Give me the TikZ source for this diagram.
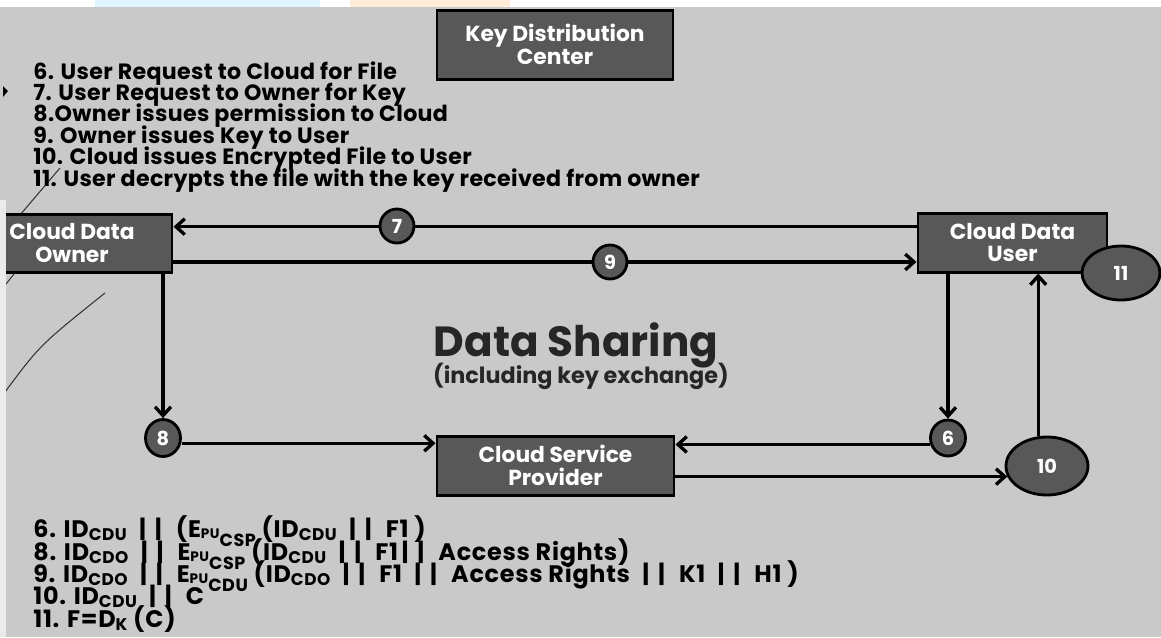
\documentclass[tikz,border=0pt]{standalone}
\usepackage{fontspec}
\setmainfont{Poppins}
\newfontfamily\frmfont{Poppins}[LetterSpace=3]
\usetikzlibrary{arrows.meta,shapes.geometric,calc}
\definecolor{bg}{RGB}{201,201,201}
\definecolor{boxgray}{RGB}{88,88,88}
\newcommand{\sbs}[1]{\smash{\raisebox{-1.8pt}{\fontsize{9.6}{10}\selectfont #1}}}
\newcommand{\epu}[1]{E\smash{\raisebox{-0.8pt}{\fontsize{7.8}{8}\selectfont PU}\raisebox{-5.2pt}{\fontsize{10}{10}\selectfont #1}}}
\newcommand{\bb}{\hspace{7pt}|\hspace{5pt}|\hspace{8pt}}
\begin{document}
\begin{tikzpicture}[x=0.02cm,y=-0.02cm,
  box/.style={draw=black, line width=1.7pt, fill=boxgray, text=white, align=center, inner sep=0pt,
     font=\bfseries\fontsize{12.4}{13}\selectfont},
  circ/.style={ellipse, draw=black, line width=1.6pt, fill=boxgray, text=white, inner sep=0pt,
     font=\bfseries\fontsize{11}{12}\selectfont},
  arr/.style={line width=1.9pt, -{Straight Barb[length=5pt,width=9pt]}},
  lst/.style={anchor=base west, inner sep=0pt, font=\bfseries\fontsize{12.6}{13}\selectfont\addfontfeatures{LetterSpace=1.5}},
  frm/.style={anchor=base west, inner sep=0pt, font=\frmfont\bfseries\fontsize{13.6}{15}\selectfont},
  pen/.style={line width=0.6pt, black!80}]
\useasboundingbox (0,0) rectangle (1161,637);
\fill[bg] (0,0) rectangle (1161,637);
\fill[white] (0,0) rectangle (1161,7);
\fill[cyan!12] (95,0) rectangle (320,7);
\fill[orange!15] (350,0) rectangle (510,7);

% pen marks
\draw[pen] (5,392) .. controls (40,345) .. (105,293);
\draw[pen] (60,168) -- (20,215);
\draw[pen] (14,274) -- (6,284);
\fill[black] (3,86) -- (8,91) -- (3,97) -- cycle;

% nodes
\node[box, minimum width=236*0.02cm, minimum height=69*0.02cm] (kdc) at (555,44.5) {Key Distribution\\Center};
\node[box, minimum width=200*0.02cm, minimum height=58*0.02cm] (owner) at (72,243) {Cloud Data\\Owner};
\node[box, minimum width=189*0.02cm, minimum height=59*0.02cm] (user) at (1012.5,242.5) {Cloud Data\\User};
\node[box, minimum width=237*0.02cm, minimum height=59*0.02cm] (csp) at (555.5,465.5) {Cloud Service\\Provider};

% list
\node[lst] (l6) at (33,79) {6. User Request to Cloud for File};
\node[lst] (l7) at (33,100) {7. User Request to Owner for Key};
\node[lst] (l8) at (33,121) {8.Owner issues permission to Cloud};
\node[lst] (l9) at (33,143) {9. Owner issues Key to User};
\node[lst] (l10) at (33,164) {10. Cloud issues Encrypted File to User};
\node[lst] (l11) at (33,186) {11. User decrypts the file with the key received from owner};

% title
\node[anchor=base, inner sep=0pt, font=\bfseries\fontsize{24}{26}\selectfont, text=black!85] (title) at (576,356) {Data Sharing};
\node[anchor=base, inner sep=0pt, font=\bfseries\fontsize{12.7}{14}\selectfont, text=black!85] (sub) at (581,383) {(including key exchange)};

% connectors
\draw[arr] ([yshift=9pt]user.west) -- ([yshift=9pt]user.west -| owner.east);
\draw[arr] ([yshift=-10.8pt]owner.east) -- ([yshift=-10.8pt]owner.east -| user.west);
\node[circ, minimum width=34*0.02cm, minimum height=34*0.02cm] (c7) at (397,226) {7};
\node[circ, minimum width=34*0.02cm, minimum height=34*0.02cm] (c9) at (610,262) {9};

\node[circ, minimum width=35*0.02cm, minimum height=37*0.02cm] (c8) at (163,438) {8};
\node[circ, minimum width=35*0.02cm, minimum height=36*0.02cm] (c6) at (948,438) {6};
\node[circ, minimum width=82*0.02cm, minimum height=58*0.02cm] (c10) at (1047,466) {10};
\node[circ, minimum width=78*0.02cm, minimum height=54*0.02cm] (c11) at (1121,273) {11};

\draw[arr] (owner.south -| c8.north) -- (c8.north);
\draw[arr] ([yshift=-3pt]c8.east) -- ([yshift=-3pt]c8.east -| csp.west);
\draw[arr] (user.south -| c6.north) -- (c6.north);
\draw[arr] (c6.200) -- (c6.200 -| csp.east);
\draw[arr] (c10.195 -| csp.east) -- (c10.195);
\draw[arr] ([xshift=-5pt]c10.north) -- ([xshift=-5pt]c10.north |- user.south);

% formulas
\node[frm] (f6) at (33,537) {6. ID\sbs{CDU}\bb(\epu{CSP} (ID\sbs{CDU}\bb F1 )};
\node[frm] (f8) at (33,560) {8. ID\sbs{CDO}\bb\epu{CSP} (ID\sbs{CDU}\bb F1\hspace{2pt}|\hspace{5pt}|\hspace{8pt}Access Rights)};
\node[frm] (f9) at (33,582) {9. ID\sbs{CDO}\bb\epu{CDU} (ID\sbs{CDO}\bb F1\bb Access Rights\bb K1\bb H1 )};
\node[frm] (f10) at (33,604) {10. ID\sbs{CDU}\bb C};
\node[frm] (f11) at (33,627) {11. F=D\sbs{K} (C)};

% left margin strip
\fill[white!92!black] (0,200) rectangle (6,637);
\end{tikzpicture}
\end{document}
